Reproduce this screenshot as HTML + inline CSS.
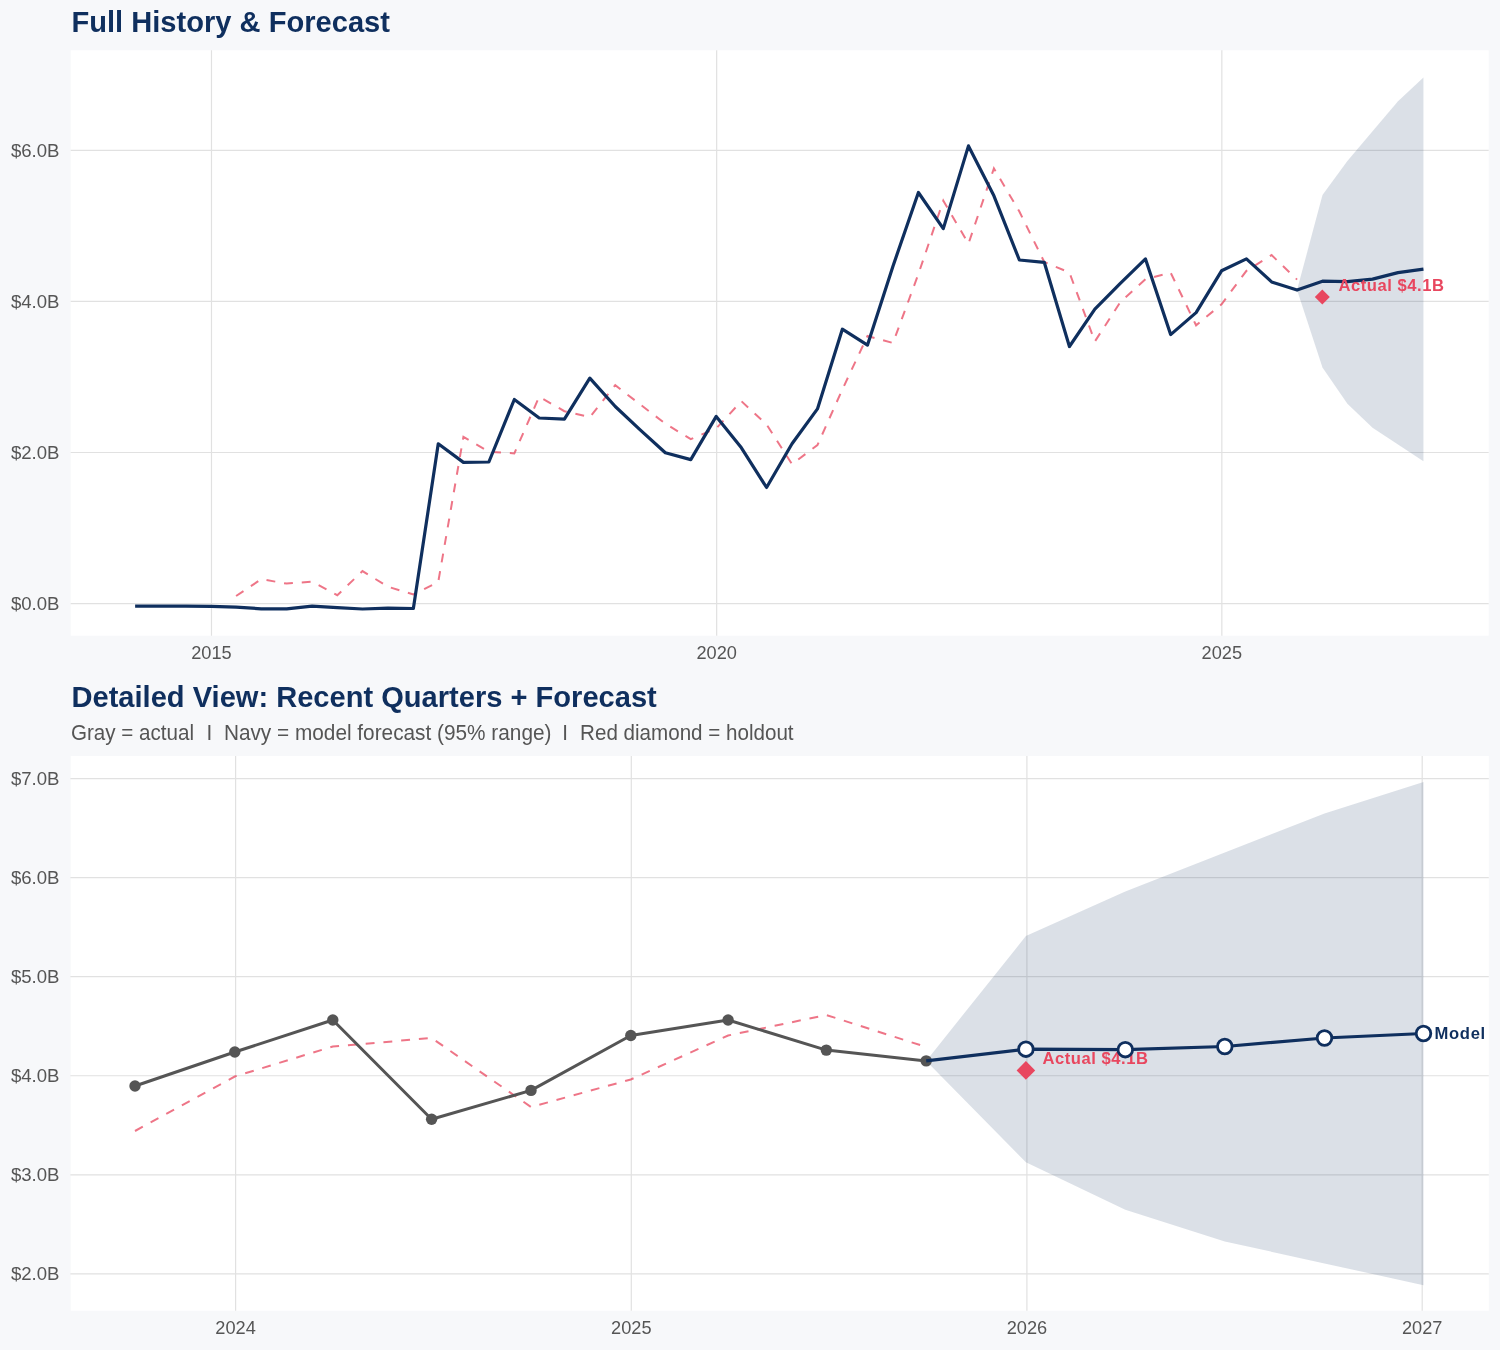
<!DOCTYPE html>
<html><head><meta charset="utf-8"><title>Full History &amp; Forecast</title>
<style>html,body{margin:0;padding:0;background:#f7f8fa;} svg{display:block;will-change:transform;}</style></head>
<body><svg width="1500" height="1350" viewBox="0 0 1500 1350" font-family='"Liberation Sans", sans-serif'>
<rect x="0" y="0" width="1500" height="1350" fill="#f7f8fa"/>
<text transform="translate(71.5 31.8) scale(1 1.045)" font-size="29.1" font-weight="bold" fill="#0f2f5e">Full History &amp; Forecast</text>
<text transform="translate(71.5 706.9) scale(1 1.03)" font-size="29.1" font-weight="bold" fill="#0f2f5e">Detailed View: Recent Quarters + Forecast</text>
<text transform="translate(71 739.5) scale(1 1.05)" font-size="20.6" fill="#555555">Gray = actual</text>
<text transform="translate(209.3 739.5) scale(1 1.05)" font-size="20.6" fill="#555555" text-anchor="middle">I</text>
<text transform="translate(223.9 739.5) scale(1 1.05)" font-size="20.8" fill="#555555">Navy = model forecast (95% range)</text>
<text transform="translate(565.1 739.5) scale(1 1.05)" font-size="20.6" fill="#555555" text-anchor="middle">I</text>
<text transform="translate(580.1 739.5) scale(1 1.05)" font-size="20.6" fill="#555555">Red diamond = holdout</text>
<rect x="70.7" y="50.3" width="1418" height="585.4" fill="#ffffff"/>
<line x1="70.7" x2="1488.7" y1="603.56" y2="603.56" stroke="#e1e1e1" stroke-width="1.2"/>
<text x="59.5" y="609.96" font-size="18.6" fill="#555555" text-anchor="end">$0.0B</text>
<line x1="70.7" x2="1488.7" y1="452.50" y2="452.50" stroke="#e1e1e1" stroke-width="1.2"/>
<text x="59.5" y="458.90" font-size="18.6" fill="#555555" text-anchor="end">$2.0B</text>
<line x1="70.7" x2="1488.7" y1="301.45" y2="301.45" stroke="#e1e1e1" stroke-width="1.2"/>
<text x="59.5" y="307.85" font-size="18.6" fill="#555555" text-anchor="end">$4.0B</text>
<line x1="70.7" x2="1488.7" y1="150.39" y2="150.39" stroke="#e1e1e1" stroke-width="1.2"/>
<text x="59.5" y="156.79" font-size="18.6" fill="#555555" text-anchor="end">$6.0B</text>
<line y1="50.3" y2="635.7" x1="211.48" x2="211.48" stroke="#e1e1e1" stroke-width="1.2"/>
<text x="211.48" y="658.8" font-size="18.2" fill="#555555" text-anchor="middle">2015</text>
<line y1="50.3" y2="635.7" x1="716.66" x2="716.66" stroke="#e1e1e1" stroke-width="1.2"/>
<text x="716.66" y="658.8" font-size="18.2" fill="#555555" text-anchor="middle">2020</text>
<line y1="50.3" y2="635.7" x1="1221.84" x2="1221.84" stroke="#e1e1e1" stroke-width="1.2"/>
<text x="1221.84" y="658.8" font-size="18.2" fill="#555555" text-anchor="middle">2025</text>
<polygon points="1297.05,290.12 1322.49,194.88 1347.39,160.89 1372.55,131.13 1398.00,101.37 1423.45,77.43 1423.45,461.19 1398.00,444.50 1372.55,427.81 1347.39,403.64 1322.49,367.46 1297.05,290.12" fill="#0f2f5e" fill-opacity="0.15"/>
<polyline points="236.07,596.00 261.24,579.20 286.69,583.60 312.13,581.60 337.30,595.20 362.47,571.10 387.92,586.70 413.36,594.50 438.26,581.90 463.42,436.80 488.87,451.70 514.32,453.40 539.21,396.70 564.38,411.20 589.82,417.20 615.27,385.20 640.16,404.40 665.33,423.60 690.78,439.20 716.22,428.40 741.39,401.20 766.56,424.50 792.01,464.20 817.45,445.10 842.34,389.50 867.51,336.00 892.96,343.00 918.40,274.00 943.30,200.70 968.47,243.70 993.91,168.40 1019.36,211.50 1044.25,262.00 1069.42,272.50 1094.86,341.50 1120.31,302.10 1145.48,279.20 1170.65,272.70 1196.09,325.30 1221.54,304.30 1246.43,270.80 1271.60,255.10 1297.05,279.60" fill="none" stroke="#e8475f" stroke-opacity="0.75" stroke-width="2.0" stroke-dasharray="8.9 8.9"/>
<polyline points="135.12,606.10 160.29,606.10 185.73,606.10 211.18,606.30 236.07,607.20 261.24,608.80 286.69,608.80 312.13,606.20 337.30,607.60 362.47,609.00 387.92,608.20 413.36,608.50 438.26,443.80 463.42,462.40 488.87,462.00 514.32,399.50 539.21,418.00 564.38,419.10 589.82,378.10 615.27,406.50 640.16,429.80 665.33,452.80 690.78,459.60 716.22,416.40 741.39,447.80 766.56,487.50 792.01,443.70 817.45,408.90 842.34,329.20 867.51,345.10 892.96,266.20 918.40,192.50 943.30,228.60 968.47,145.90 993.91,195.80 1019.36,260.00 1044.25,262.30 1069.42,346.50 1094.86,309.20 1120.31,283.30 1145.48,258.90 1170.65,334.60 1196.09,312.60 1221.54,270.80 1246.43,258.90 1271.60,281.90 1297.05,290.10 1322.49,281.21 1347.39,281.58 1372.55,279.17 1398.00,272.67 1423.45,269.20" fill="none" stroke="#0f2f5e" stroke-width="3.2" stroke-linejoin="round"/>
<polygon points="1322.3,289.6 1329.8,297.1 1322.3,304.6 1314.8,297.1" fill="#e8475f"/>
<text x="1338.5" y="290.9" font-size="16.6" letter-spacing="0.53" font-weight="bold" fill="#e8475f">Actual $4.1B</text>
<rect x="70.7" y="756" width="1418.1" height="554.7" fill="#ffffff"/>
<line x1="70.4" x2="1488.8" y1="1273.85" y2="1273.85" stroke="#e1e1e1" stroke-width="1.2"/>
<text x="59.5" y="1280.25" font-size="18.6" fill="#555555" text-anchor="end">$2.0B</text>
<line x1="70.4" x2="1488.8" y1="1174.80" y2="1174.80" stroke="#e1e1e1" stroke-width="1.2"/>
<text x="59.5" y="1181.20" font-size="18.6" fill="#555555" text-anchor="end">$3.0B</text>
<line x1="70.4" x2="1488.8" y1="1075.75" y2="1075.75" stroke="#e1e1e1" stroke-width="1.2"/>
<text x="59.5" y="1082.15" font-size="18.6" fill="#555555" text-anchor="end">$4.0B</text>
<line x1="70.4" x2="1488.8" y1="976.70" y2="976.70" stroke="#e1e1e1" stroke-width="1.2"/>
<text x="59.5" y="983.10" font-size="18.6" fill="#555555" text-anchor="end">$5.0B</text>
<line x1="70.4" x2="1488.8" y1="877.65" y2="877.65" stroke="#e1e1e1" stroke-width="1.2"/>
<text x="59.5" y="884.05" font-size="18.6" fill="#555555" text-anchor="end">$6.0B</text>
<line x1="70.4" x2="1488.8" y1="778.60" y2="778.60" stroke="#e1e1e1" stroke-width="1.2"/>
<text x="59.5" y="785.00" font-size="18.6" fill="#555555" text-anchor="end">$7.0B</text>
<line y1="756" y2="1310.7" x1="235.60" x2="235.60" stroke="#e1e1e1" stroke-width="1.2"/>
<text x="235.60" y="1333.8" font-size="18.2" fill="#555555" text-anchor="middle">2024</text>
<line y1="756" y2="1310.7" x1="631.30" x2="631.30" stroke="#e1e1e1" stroke-width="1.2"/>
<text x="631.30" y="1333.8" font-size="18.2" fill="#555555" text-anchor="middle">2025</text>
<line y1="756" y2="1310.7" x1="1026.90" x2="1026.90" stroke="#e1e1e1" stroke-width="1.2"/>
<text x="1026.90" y="1333.8" font-size="18.2" fill="#555555" text-anchor="middle">2026</text>
<line y1="756" y2="1310.7" x1="1422.20" x2="1422.20" stroke="#e1e1e1" stroke-width="1.2"/>
<text x="1422.20" y="1333.8" font-size="18.2" fill="#555555" text-anchor="middle">2027</text>
<polygon points="926.20,1060.90 1025.90,936.00 1125.30,891.40 1224.80,852.40 1324.50,813.40 1423.50,782.00 1423.50,1285.20 1324.50,1263.40 1224.80,1241.50 1125.30,1209.80 1025.90,1162.30 926.20,1060.90" fill="#0f2f5e" fill-opacity="0.15"/>
<polyline points="135.00,1131.00 234.80,1076.50 332.80,1046.50 431.60,1038.00 531.00,1107.00 630.80,1079.50 728.10,1035.50 826.30,1015.00 926.20,1047.00" fill="none" stroke="#e8475f" stroke-opacity="0.75" stroke-width="2.0" stroke-dasharray="8.9 8.9"/>
<polyline points="135.00,1086.00 234.80,1052.00 332.80,1020.00 431.60,1119.20 531.00,1090.40 630.80,1035.50 728.10,1020.00 826.30,1050.10 926.20,1060.90" fill="none" stroke="#555555" stroke-width="3.0" stroke-linejoin="round"/>
<circle cx="135.0" cy="1086" r="5.7" fill="#555555"/>
<circle cx="234.8" cy="1052" r="5.7" fill="#555555"/>
<circle cx="332.8" cy="1020" r="5.7" fill="#555555"/>
<circle cx="431.6" cy="1119.2" r="5.7" fill="#555555"/>
<circle cx="531.0" cy="1090.4" r="5.7" fill="#555555"/>
<circle cx="630.8" cy="1035.5" r="5.7" fill="#555555"/>
<circle cx="728.1" cy="1020" r="5.7" fill="#555555"/>
<circle cx="826.3" cy="1050.1" r="5.7" fill="#555555"/>
<circle cx="926.2" cy="1060.9" r="5.7" fill="#555555"/>
<polyline points="926.20,1060.90 1025.90,1049.20 1125.30,1049.70 1224.80,1046.50 1324.50,1038.00 1423.50,1033.50" fill="none" stroke="#0f2f5e" stroke-width="3.2" stroke-linejoin="round"/>
<polygon points="1025.9,1061.1000000000001 1035.2,1070.4 1025.9,1079.7 1016.6000000000001,1070.4" fill="#e8475f"/>
<text x="1042.5" y="1063.8" font-size="16.6" letter-spacing="0.53" font-weight="bold" fill="#e8475f">Actual $4.1B</text>
<circle cx="1025.9" cy="1049.2" r="7.3" fill="#ffffff" stroke="#0f2f5e" stroke-width="2.8"/>
<circle cx="1125.3" cy="1049.7" r="7.3" fill="#ffffff" stroke="#0f2f5e" stroke-width="2.8"/>
<circle cx="1224.8" cy="1046.5" r="7.3" fill="#ffffff" stroke="#0f2f5e" stroke-width="2.8"/>
<circle cx="1324.5" cy="1038" r="7.3" fill="#ffffff" stroke="#0f2f5e" stroke-width="2.8"/>
<circle cx="1423.5" cy="1033.5" r="7.3" fill="#ffffff" stroke="#0f2f5e" stroke-width="2.8"/>
<text x="1434.5" y="1038.8" font-size="16.6" letter-spacing="0.7" font-weight="bold" fill="#0f2f5e">Model</text>
</svg></body></html>
